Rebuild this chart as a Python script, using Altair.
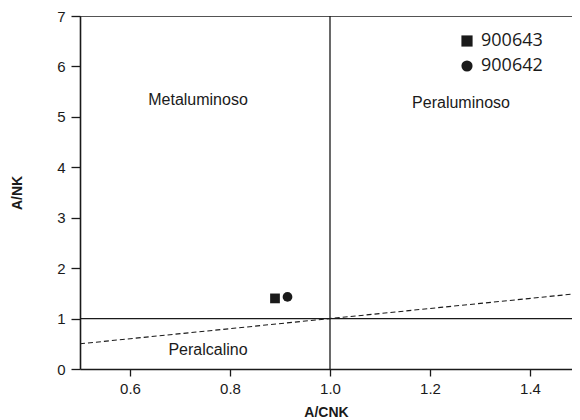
import altair as alt
import pandas as pd

# sample points
samples = ["900643", "900642"]
acnk = [0.89, 0.915]
ank = [1.40, 1.43]

# field labels
field_names = ["Metaluminoso", "Peraluminoso", "Peralcalino"]
field_x = [0.736, 1.262, 0.756]
field_y = [5.34, 5.28, 0.38]

# boundary lines
vline_x = [1.0, 1.0]
vline_y = [0, 7]
hline_x = [0.5, 1.5]
hline_y = [1, 1]
dash_x = [0.5, 1.5]
dash_y = [0.5, 1.5]
top_x = [0.5, 1.5]
top_y = [7, 7]

pts = pd.DataFrame({"sample": samples, "x": acnk, "y": ank})
labels = pd.DataFrame({"t": field_names, "x": field_x, "y": field_y})
vline = pd.DataFrame({"x": vline_x, "y": vline_y})
hline = pd.DataFrame({"x": hline_x, "y": hline_y})
dash = pd.DataFrame({"x": dash_x, "y": dash_y})
top = pd.DataFrame({"x": top_x, "y": top_y})

# right edge of the visible plot is cut at the page edge
xsc = alt.Scale(domain=[0.5, 1.484], nice=False, zero=False)
ysc = alt.Scale(domain=[0, 7], nice=False, zero=False)

xax = alt.Axis(title="A/CNK", values=[0.6, 0.8, 1.0, 1.2, 1.4], format=".1f",
               grid=False, tickSize=7, labelPadding=5, titlePadding=9)
yax = alt.Axis(title="A/NK", values=[0, 1, 2, 3, 4, 5, 6, 7], format="d",
               grid=False, tickSize=9, labelPadding=6, titlePadding=32)

def line(df, dash_arr=None):
    kw = dict(color="#1a1a1a", strokeWidth=1.3, clip=True)
    if dash_arr:
        kw["strokeDash"] = dash_arr
        kw["strokeWidth"] = 1.1
    return alt.Chart(df).mark_line(**kw).encode(
        x=alt.X("x:Q", scale=xsc, axis=xax),
        y=alt.Y("y:Q", scale=ysc, axis=yax),
    )

base_v = line(vline)
base_h = line(hline)
base_d = line(dash, [5, 3])
base_t = line(top)

text = alt.Chart(labels).mark_text(font="Liberation Sans", fontSize=16, color="#1a1a1a").encode(
    x=alt.X("x:Q", scale=xsc, axis=xax),
    y=alt.Y("y:Q", scale=ysc, axis=yax),
    text="t:N",
)

points = alt.Chart(pts).mark_point(filled=True, opacity=1, color="#1a1a1a", size=95).encode(
    x=alt.X("x:Q", scale=xsc, axis=xax),
    y=alt.Y("y:Q", scale=ysc, axis=yax),
    shape=alt.Shape("sample:N", scale=alt.Scale(domain=samples, range=["square", "circle"]),
                    legend=alt.Legend(title=None, orient="none", legendX=378, legendY=16,
                                      labelFont="Open Sans", labelFontSize=18,
                                      labelColor="#1a1a1a", symbolSize=125,
                                      symbolFillColor="#1a1a1a", symbolStrokeColor="#1a1a1a",
                                      rowPadding=7, labelOffset=5, padding=0)),
)

chart = alt.layer(base_v, base_h, base_d, base_t, text, points).properties(
    width=492, height=353,
    padding={"left": 72, "top": 8, "right": 0, "bottom": 51},
    autosize=alt.AutoSizeParams(type="none"),
).configure_view(stroke=None).configure_axis(
    domainColor="#1a1a1a", tickColor="#1a1a1a", domainWidth=1.6, tickWidth=1.3,
    labelFont="Liberation Sans", labelFontSize=15, labelColor="#1a1a1a",
    titleFont="Liberation Sans", titleFontSize=14, titleFontWeight="bold", titleColor="#1a1a1a",
)

chart.save("out.html", embed_options={"renderer": "svg", "actions": False})
